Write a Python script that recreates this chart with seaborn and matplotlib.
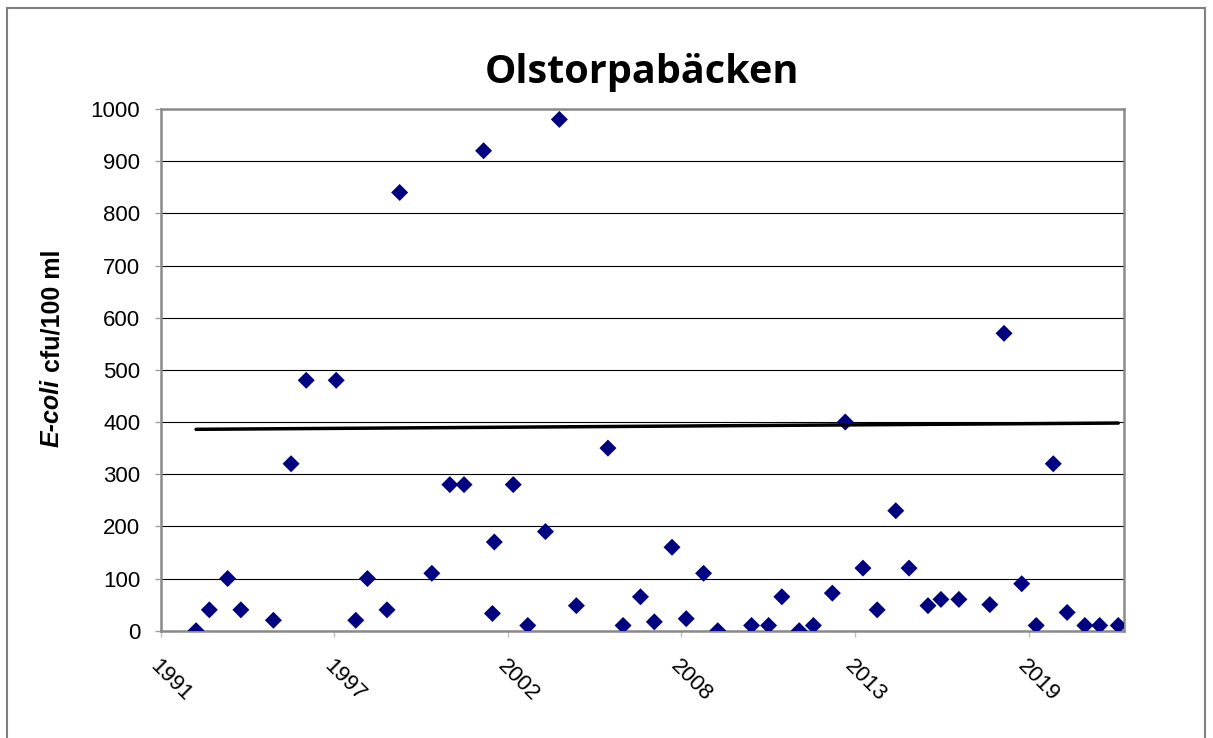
import matplotlib
matplotlib.use("Agg")
import matplotlib.pyplot as plt
import pandas as pd
import seaborn as sns
from matplotlib.patches import Rectangle


# provtagningstillfällen (decimalår) och E. coli-halter
years = [1992.82, 1993.24, 1993.82, 1994.24, 1995.27, 1995.83, 1996.31, 1997.26,
         1997.88, 1998.25, 1998.87, 1999.27, 2000.29, 2000.86, 2001.31, 2001.93,
         2002.21, 2002.27, 2002.87, 2003.33, 2003.89, 2004.33, 2004.87, 2005.87,
         2006.35, 2006.90, 2007.34, 2007.90, 2008.35, 2008.90, 2009.35, 2010.42,
         2010.96, 2011.38, 2011.93, 2012.38, 2012.98, 2013.39, 2013.95, 2014.40,
         2014.99, 2015.41, 2016.01, 2016.42, 2016.99, 2017.97, 2018.42, 2018.98,
         2019.44, 2019.98, 2020.42, 2020.98, 2021.45, 2022.04]
ecoli = [0, 40, 100, 40, 20, 320, 480, 480,
         20, 100, 40, 840, 110, 280, 280, 920,
         33, 170, 280, 10, 190, 980, 48, 350,
         10, 65, 17, 160, 23, 110, 0, 10,
         10, 65, 0, 10, 72, 400, 120, 40,
         230, 120, 48, 60, 60, 50, 570, 90,
         10, 320, 35, 10, 10, 10]

# linjär trend (start och slut)
trend_years = [1992.82, 2022.04]
trend_values = [386, 398]

tick_years = [1991.7, 1997.2, 2002.7, 2008.2, 2013.7, 2019.2]
tick_labels = ["1991", "1997", "2002", "2008", "2013", "2019"]

df = pd.DataFrame({"year": years, "ecoli": ecoli})

sns.set_theme(style="white")
plt.rcParams["font.family"] = ["Liberation Sans", "DejaVu Sans"]
plt.rcParams["text.color"] = "black"

fig = plt.figure(figsize=(12.13, 7.38), dpi=100)
ax = fig.add_axes([0.1325, 0.1454, 0.7941, 0.7069])

# diagram
sns.scatterplot(data=df, x="year", y="ecoli", marker="D", s=75, color="#000080",
                edgecolor="none", linewidth=0, ax=ax, zorder=3)
sns.lineplot(x=trend_years, y=trend_values, color="black", linewidth=2.5, ax=ax, zorder=4)

ax.set_xlim(1991.7, 2022.22)
ax.set_ylim(0, 1000)
ax.set_yticks(range(0, 1001, 100))
ax.set_xticks(tick_years)
ax.set_xticklabels(tick_labels, rotation=-45, ha="left", va="top", rotation_mode="anchor")
ax.set_xlabel("")
ax.set_ylabel("")

ax.yaxis.grid(True, color="black", linewidth=0.8)
ax.xaxis.grid(False)
ax.set_axisbelow(True)

for sp in ax.spines.values():
    sp.set_color("#8a8a8a")
    sp.set_linewidth(1.8)

ax.tick_params(axis="y", direction="out", length=4.3, width=1, color="#a0a0a0",
               labelsize=16, pad=10.5, labelcolor="black", left=True)
ax.tick_params(axis="x", direction="out", length=4.3, width=1, color="#c0c0c0",
               labelsize=16, pad=14, labelcolor="black", bottom=True)

# titel
fig.text(0.5295, 0.902, "Olstorpabäcken", fontsize=28.5, fontweight="bold",
         family=["Open Sans", "DejaVu Sans"], ha="center", va="center", color="black")

# y-axeltitel med kursivt artnamn
t1 = fig.text(0.0429, 0.3947, "E-coli", rotation=90, ha="center", va="bottom",
              fontsize=18, fontweight="bold", fontstyle="italic", color="black")
ax.annotate(" cfu/100 ml", xy=(0.5, 1), xycoords=t1, rotation=90, ha="center",
            va="bottom", fontsize=18, fontweight="bold", color="black",
            annotation_clip=False)

# ram runt diagramytan
fig.add_artist(Rectangle((7 / 1213, -0.05), 1198 / 1213, 0.98916 + 0.05,
                         transform=fig.transFigure, fill=False,
                         edgecolor="#808080", linewidth=1.5))

plt.savefig("out.png", dpi=100)
